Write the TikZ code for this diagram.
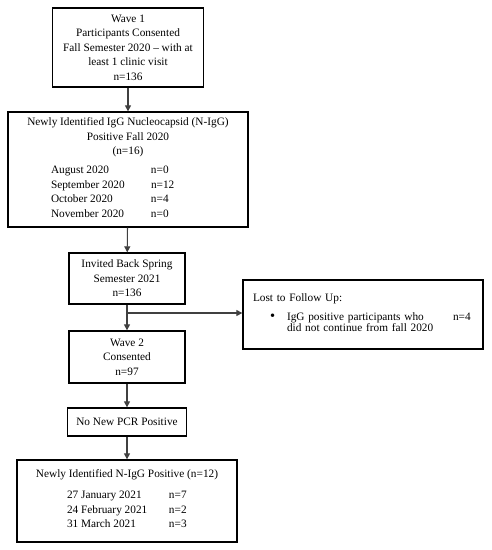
\documentclass[tikz,border=0pt]{standalone}
\usepackage{fontspec}
\setmainfont{Liberation Serif}
\usetikzlibrary{arrows.meta}

\begin{document}
\begin{tikzpicture}[x=1pt,y=-1pt,
  box/.style={draw=black, line width=1.3pt, align=center, inner sep=0pt,
    font=\fontsize{11.3}{14.5}\selectfont},
  flow/.style={draw=black!75, line width=1.1pt, -{Triangle[length=6pt,width=6pt]}}]
 \path[use as bounding box] (0,0) rectangle (492,550);

\node[box, minimum width=151pt, minimum height=79pt] (wave1) at (128,47.5)
  {Wave 1\\Participants Consented\\Fall Semester 2020 -- with at\\least 1 clinic visit\\n=136};

\node[box, minimum width=240pt, minimum height=115pt] (fall) at (128,169.5)
  {Newly Identified IgG Nucleocapsid (N-IgG)\\Positive Fall 2020\\(n=16)\\[5.5pt]
   \begin{tabular}{@{}p{100pt}@{}p{54pt}@{}}
   August 2020 & n=0\\
   September 2020 & n=12\\
   October 2020 & n=4\\
   November 2020 & n=0
   \end{tabular}};

\node[box, minimum width=116pt, minimum height=51pt] (invited) at (127,278.5)
  {Invited Back Spring\\Semester 2021\\n=136};

\node[box, minimum width=116pt, minimum height=52pt] (wave2) at (127,357)
  {Wave 2\\Consented\\n=97};

\node[box, minimum width=119pt, minimum height=28pt] (pcr) at (127,422)
  {No New PCR Positive};

\node[box, minimum width=220pt, minimum height=82pt] (spring) at (127,501)
  {Newly Identified N-IgG Positive (n=12)\\[7.5pt]
   \begin{tabular}{@{}p{102pt}@{}p{18pt}@{}}
   27 January 2021 & n=7\\
   24 February 2021 & n=2\\
   31 March 2021 & n=3
   \end{tabular}};

\node[box, align=left, text width=220pt, inner xsep=10pt, minimum height=69pt] (lost) at (363,314.5)
  {Lost to Follow Up:\\[7.5pt]
   \hspace*{17pt}{\fontsize{11.3}{11}\selectfont
   \begin{tabular}{@{}p{17pt}@{}p{166pt}@{}l@{}}
   {\Large\textbullet} & IgG positive participants who & n=4\\
   & did not continue from fall 2020 &
   \end{tabular}}};

\coordinate (split) at (127,313);

\draw[flow] (wave1) -- (fall);
\draw[flow] (fall) -- (invited);
\draw[flow] (invited) -- (wave2);
\draw[flow] (split) -- (split -| lost.west);
\draw[flow] (wave2) -- (pcr);
\draw[flow] (pcr) -- (spring);

\end{tikzpicture}
\end{document}
